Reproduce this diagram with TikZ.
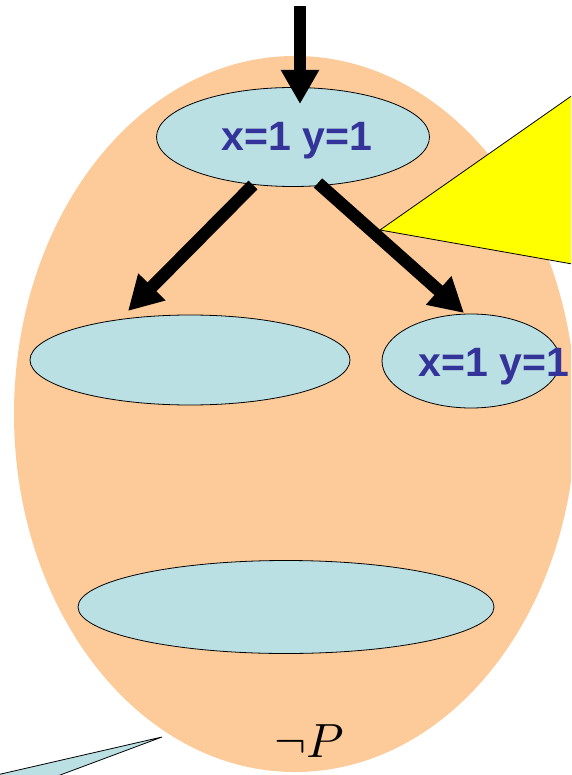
\documentclass[tikz,border=0pt]{standalone}
\usepackage{fontspec}
\setsansfont{Liberation Sans}
\usetikzlibrary{shapes.geometric,arrows.meta}
\definecolor{peach}{RGB}{253,202,153}
\definecolor{paleblue}{RGB}{186,224,227}
\definecolor{txtblue}{RGB}{51,51,153}
\definecolor{callyellow}{RGB}{255,255,0}
\tikzset{
  state/.style={ellipse,draw=black,line width=0.8pt,fill=paleblue,inner sep=0pt},
  lab/.style={font=\sffamily\bfseries\fontsize{41}{44}\selectfont,text=txtblue,inner sep=0pt},
  bigarrow/.style={line width=12.5pt,-{Triangle[width=36pt,length=34pt]}},
}
\begin{document}
\begin{tikzpicture}[x=1pt,y=-1pt]
\useasboundingbox (0,0) rectangle (571,775);
\begin{scope}
\clip (0,0) rectangle (571,775);
% region
\node[ellipse,fill=peach,minimum width=562pt,minimum height=716pt,inner sep=0pt] (region) at (295,414) {};
% yellow callout
\coordinate (yapex) at (380,230);
\fill[callyellow,draw=black,line width=0.8pt] (yapex) -- (640,48) -- (640,276) -- cycle;
% blue callout bottom-left
\coordinate (bapex) at (162,737);
\fill[paleblue,draw=black,line width=0.8pt] (bapex) -- (-60,788) -- (20,790) -- cycle;
% states
\node[state,minimum width=273pt,minimum height=99pt] (top) at (293,137) {};
\node[state,minimum width=320pt,minimum height=90pt] (left) at (190,360) {};
\node[state,minimum width=178pt,minimum height=94pt] (right) at (471,361) {};
\node[state,minimum width=416pt,minimum height=93pt] (bottom) at (286,607) {};
\node[lab] (toplab) at (297,141) {x=1 y=1};
\node[lab] (rightlab) at (494,367) {x=1 y=1};
\node[inner sep=0pt] (negp) at (309,741) {\scalebox{4.8}{$\neg P$}};
% arrows
\coordinate (in) at (300,6);
\coordinate (intip) at (300,104);
\coordinate (ls) at (253,185);
\coordinate (lt) at (128,311);
\coordinate (rs) at (318,183);
\coordinate (rt) at (464,313);
\draw[bigarrow] (in) -- (intip);
\draw[bigarrow] (ls) -- (lt);
\draw[bigarrow] (rs) -- (rt);
\end{scope}
\end{tikzpicture}
\end{document}
